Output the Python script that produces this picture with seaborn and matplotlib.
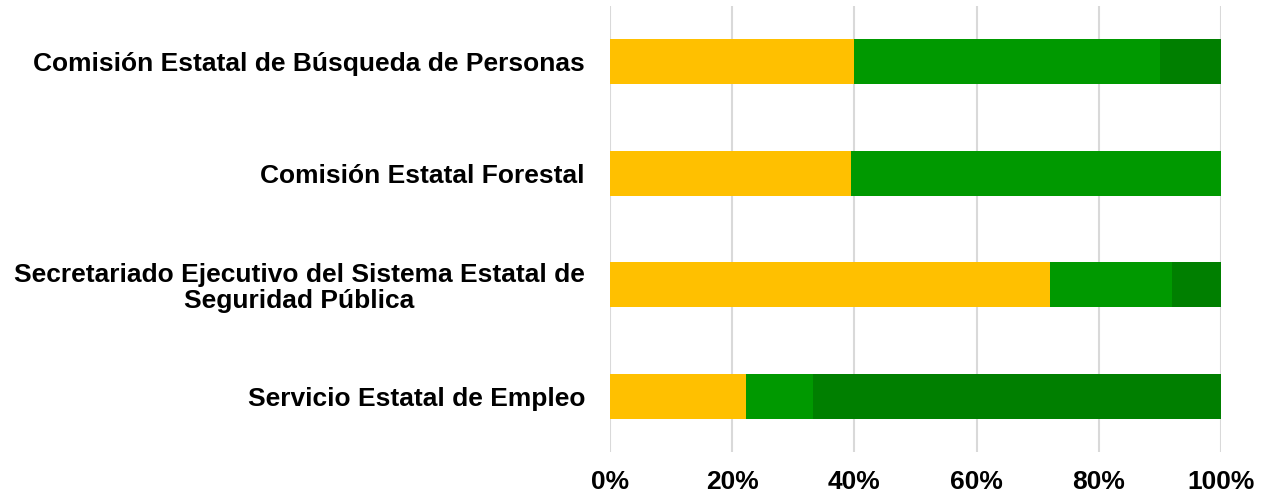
import numpy as np
import pandas as pd
import matplotlib
matplotlib.use("Agg")
import matplotlib.pyplot as plt
import seaborn as sns
from matplotlib.ticker import PercentFormatter

categories = [
    "Comisión Estatal de Búsqueda de Personas",
    "Comisión Estatal Forestal",
    "Secretariado Ejecutivo del Sistema Estatal de\nSeguridad Pública",
    "Servicio Estatal de Empleo",
]
serie_a = [40.0, 39.4, 72.0, 22.2]   # yellow
serie_b = [50.0, 60.6, 20.0, 11.1]   # green
serie_c = [10.0, 0.0, 8.0, 66.7]     # dark green
colors = ["#FFC000", "#009900", "#007F00"]
xticks = [0, 20, 40, 60, 80, 100]

sns.set_theme(style="white")
plt.rcParams["font.family"] = ["Liberation Sans", "DejaVu Sans"]

fig = plt.figure(figsize=(12.68, 4.97), dpi=100)
ax = fig.add_axes([610 / 1268, 1 - 452 / 497, 611 / 1268, 446 / 497])

series = [serie_a, serie_b, serie_c]
cum = np.cumsum(np.array(series), axis=0)
for i in range(len(series) - 1, -1, -1):
    df = pd.DataFrame({"cat": categories, "val": cum[i]})
    sns.barplot(data=df, x="val", y="cat", orient="h", color=colors[i],
                width=0.4, ax=ax, saturation=1, edgecolor="none", linewidth=0)

ax.set_xlim(0, 100)
ax.set_ylim(3.5, -0.5)
ax.set_xticks(xticks)
ax.xaxis.set_major_formatter(PercentFormatter(decimals=0))
ax.grid(axis="x", color="#D9D9D9", linewidth=1.5)
ax.set_axisbelow(True)
for s in ax.spines.values():
    s.set_visible(False)
ax.set_xlabel("")
ax.set_ylabel("")
ax.tick_params(axis="x", length=0, pad=13, labelsize=19)
ax.tick_params(axis="y", length=0, pad=18, labelsize=19)
for lab in ax.get_xticklabels() + ax.get_yticklabels():
    lab.set_fontweight("bold")
    lab.set_color("black")
for lab in ax.get_yticklabels():
    lab.set_multialignment("center")
    lab.set_linespacing(1.1)

fig.savefig("out.png", dpi=100)
